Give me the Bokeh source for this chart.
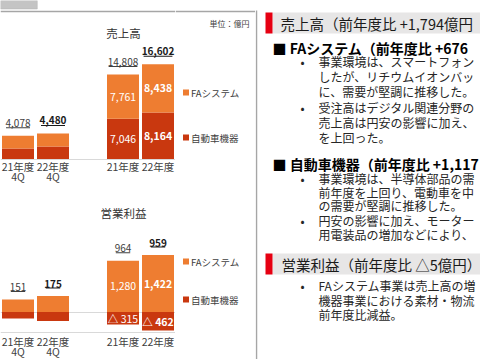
from bokeh.plotting import figure
from bokeh.models import Range1d, FactorRange, ColumnDataSource
from bokeh.layouts import row
from bokeh.embed import file_html
from bokeh.resources import INLINE
from bokeh.core.properties import value, field

# ---------------- data ----------------
categories = ["21年度\n4Q", "22年度\n4Q", " ", "21年度", "22年度"]
bar_categories = ["21年度\n4Q", "22年度\n4Q", "21年度", "22年度"]
is_current = [False, True, False, True]
show_inner = [False, False, True, True]
series_names = ["FAシステム", "自動車機器"]

sales_fa = [2248, 2300, 7761, 8438]
sales_auto = [1830, 2180, 7046, 8164]
sales_total = [4078, 4480, 14808, 16602]

profit_fa = [312, 400, 1280, 1422]
profit_auto = [-161, -225, -315, -462]
profit_total = [151, 175, 964, 959]
profit_axis_min = -500

chart_titles = ["売上高", "営業利益"]
unit_label = "単位：億円"

# right-hand commentary (as much as the slide crop shows)
headers = ["売上高（前年度比 +1,794億円", "営業利益（前年度比 △5億円）"]
sub_heads = ["■ FAシステム（前年度比 +676", "■ 自動車機器（前年度比 +1,117"]
fa_items = [
    ["事業環境は、スマートフォン",
     "したが、リチウムイオンバッ",
     "に、需要が堅調に推移した。"],
    ["受注高はデジタル関連分野の",
     "売上高は円安の影響に加え、",
     "を上回った。"],
]
auto_items = [
    ["事業環境は、半導体部品の需",
     "前年度を上回り、電動車を中",
     "の需要が堅調に推移した。"],
    ["円安の影響に加え、モーター",
     "用電装品の増加などにより、"],
]
profit_items = [
    ["FAシステム事業は売上高の増",
     "機器事業における素材・物流",
     "前年度比減益。"],
]

# ---------------- layout / style ----------------
FONT = "Noto Sans CJK JP"
C_FA = "#EE7D31"
C_AUTO = "#C9380F"
GRID = "#D9D9D9"
BORDER = "#A6A6A6"
TXT = "#404040"
BODY_C = "#262626"
H = 359
CHART_W, SIDE_W, TEXT_W = 175, 80, 225
PITCH = CHART_W / len(categories)
BAR_W = 32 / PITCH
S_BASE, S_PX = 158.5, 0.0057
P_BASE, P_PX = 311.5, 0.040
UL_RISE = 8


def value_range(base, px_per_unit, rise=0.0):
    end = (base - rise) / px_per_unit
    return Range1d(end - H / px_per_unit, end)


def fmt(v):
    return "△ {:,}".format(-v) if v < 0 else "{:,}".format(v)


def base_fig(width, x_range, y_range):
    p = figure(width=width, height=H, x_range=x_range, y_range=y_range,
               x_axis_location=None, y_axis_location=None,
               toolbar_location=None, output_backend="svg",
               min_border=0, outline_line_color=None)
    p.xgrid.grid_line_color = None
    p.ygrid.grid_line_color = None
    p.background_fill_color = "white"
    p.border_fill_color = "white"
    return p


def txt(size, color=TXT, style="normal", align="left", baseline="middle"):
    return dict(text_font=value(FONT), text_font_size=size, text_color=color,
                text_font_style=style, text_align=align, text_baseline=baseline)


# ---------------- chart figure ----------------
pc = base_fig(CHART_W, FactorRange(factors=categories), value_range(S_BASE, S_PX))
pc.extra_y_ranges = {
    "profit": value_range(P_BASE, P_PX),
    "sales_ul": value_range(S_BASE, S_PX, UL_RISE),
    "profit_ul": value_range(P_BASE, P_PX, UL_RISE),
    "py": Range1d(H, 0),
}

# slide tab, panel border, axis / zero lines
pc.quad(left=[[categories[0], -0.5]], right=[[categories[0], 0.55]], top=[0], bottom=[8.5],
        y_range_name="py", fill_color="#C4C4C4", line_color="#B0B0B0", line_width=0.5)
pc.hspan(y=[10.5], y_range_name="py", line_color=BORDER, line_width=1.5)
pc.hspan(y=[0], line_color=GRID, line_width=1)
pc.hspan(y=[0, profit_axis_min], y_range_name="profit", line_color=GRID, line_width=1)

# sales bars
src_s = ColumnDataSource(dict(cat=bar_categories, fa=sales_fa, auto=sales_auto))
pc.vbar_stack(["auto", "fa"], x="cat", width=BAR_W, color=[C_AUTO, C_FA],
              line_color=None, source=src_s)

# profit bars
src_p = ColumnDataSource(dict(cat=bar_categories, fa=profit_fa, auto=profit_auto))
pc.vbar(x="cat", bottom=0, top="fa", width=BAR_W, color=C_FA, line_color=None,
        source=src_p, y_range_name="profit")
pc.vbar(x="cat", bottom="auto", top=0, width=BAR_W, color=C_AUTO, line_color=None,
        source=src_p, y_range_name="profit")

styles = ["bold" if c else "normal" for c in is_current]
tcolors = ["#1A1A1A" if c else TXT for c in is_current]


def totals(y_vals, labels, yr, ulr, yoff):
    texts = [fmt(v) for v in labels]
    src = ColumnDataSource(dict(cat=bar_categories, y=y_vals, text=texts,
                                style=styles, color=tcolors,
                                ulw=[len(t) * 4.8 for t in texts]))
    pc.text(x="cat", y="y", text="text", source=src, y_offset=yoff,
            text_font=value(FONT), text_font_size="10px",
            text_font_style=field("style"), text_color=field("color"),
            text_align="center", text_baseline="middle", y_range_name=yr)
    pc.rect(x="cat", y="y", width="ulw", width_units="screen", height=1,
            height_units="screen", fill_color=field("color"), line_color=None,
            source=src, y_range_name=ulr)


totals(sales_total, sales_total, "default", "sales_ul", -13)
totals([max(v, 0) for v in profit_fa], profit_total, "profit", "profit_ul", -12.5)


def inner(values_y, values, yr, yoff):
    idx = [i for i, s in enumerate(show_inner) if s]
    src = ColumnDataSource(dict(cat=[bar_categories[i] for i in idx],
                                y=[values_y[i] for i in idx],
                                text=[fmt(values[i]) for i in idx],
                                style=[styles[i] for i in idx]))
    pc.text(x="cat", y="y", text="text", source=src, y_offset=yoff,
            text_font=value(FONT), text_font_size="10.5px",
            text_font_style=field("style"), text_color="white",
            text_align="center", text_baseline="middle", y_range_name=yr)


inner([a + f / 2 for a, f in zip(sales_auto, sales_fa)], sales_fa, "default", 0)
inner([a / 2 for a in sales_auto], sales_auto, "default", 0)
inner([f / 2 for f in profit_fa], profit_fa, "profit", 0)
inner([a / 2 for a in profit_auto], profit_auto, "profit", 0)

# category labels (two lines drawn separately for tight line spacing)
for y0, yr, off1, off2 in ((0, "default", 7.5, 17.5),
                           (profit_axis_min, "profit", 9.5, 19.5)):
    lines = [c.split("\n") for c in bar_categories]
    pc.text(x=bar_categories, y=[y0] * 4, text=[l[0] for l in lines], y_offset=off1,
            y_range_name=yr, **txt("10.5px", align="center"))
    two = [c for c, l in zip(bar_categories, lines) if len(l) > 1]
    pc.text(x=two, y=[y0] * len(two), text=[c.split("\n")[1] for c in two],
            y_offset=off2, y_range_name=yr, **txt("10.5px", align="center"))

# chart titles (centred over the chart area, near the 21年度 column)
pc.text(x=["21年度", "21年度"], y=[32, 212], text=chart_titles, x_offset=0.5,
        y_range_name="py", **txt("11.5px", color="#333333", align="center"))

# ---------------- side figure (legends / unit) ----------------
ps = base_fig(SIDE_W, Range1d(CHART_W, CHART_W + SIDE_W), Range1d(H, 0))
ps.hspan(y=[10.5], line_color=BORDER, line_width=1.5)
ps.text(x=[249], y=[23], text=[unit_label], **txt("8px", align="right"))
leg_colors = [C_FA, C_AUTO]
for ys in ([92, 137], [261, 299]):
    ps.scatter(x=[185.5, 185.5], y=ys, marker="square", size=6,
               color=leg_colors, line_color=None)
    ps.text(x=[190.5, 190.5], y=ys, text=series_names, **txt("9.5px"))

# ---------------- text figure ----------------
XT0 = CHART_W + SIDE_W
pt = base_fig(TEXT_W, Range1d(XT0, XT0 + TEXT_W), Range1d(H, 0))
pt.segment(x0=[256], y0=[10], x1=[256], y1=[H], line_color=BORDER, line_width=1.5)
pt.quad(left=[272, 272], right=[480, 480], top=[12, 253], bottom=[33, 274],
        color="#E7E6E6", line_color=None)
pt.quad(left=[265, 265], right=[272, 272], top=[12, 253], bottom=[33, 274],
        color="#E60012", line_color=None)
pt.text(x=[280, 281], y=[23, 263.5], text=headers, **txt("14.5px", color="#1A1A1A"))
pt.text(x=[272, 272], y=[47, 163], text=sub_heads,
        **txt("14px", color="#000000", style="bold"))

BODY_X, BULLET_X = 318, 302


def body(items, y_lines):
    xs, ys, ts, bx, by = [], [], [], [], []
    k = 0
    for item in items:
        for j, line in enumerate(item):
            xs.append(BODY_X)
            ys.append(y_lines[k])
            ts.append(line)
            if j == 0:
                bx.append(BULLET_X)
                by.append(y_lines[k])
            k += 1
    pt.text(x=xs, y=ys, text=ts, **txt("12px", color=BODY_C))
    pt.text(x=bx, y=by, text=["•"] * len(bx), **txt("12px", color=BODY_C, align="center"))


body(fa_items, [61, 75.5, 90.5, 106.5, 121.5, 136.5])
body(auto_items, [177.5, 191.5, 205, 220, 234])
body(profit_items, [285, 299.5, 314])

layout = row(pc, ps, pt)
open("out.html", "w").write(file_html(layout, INLINE))
